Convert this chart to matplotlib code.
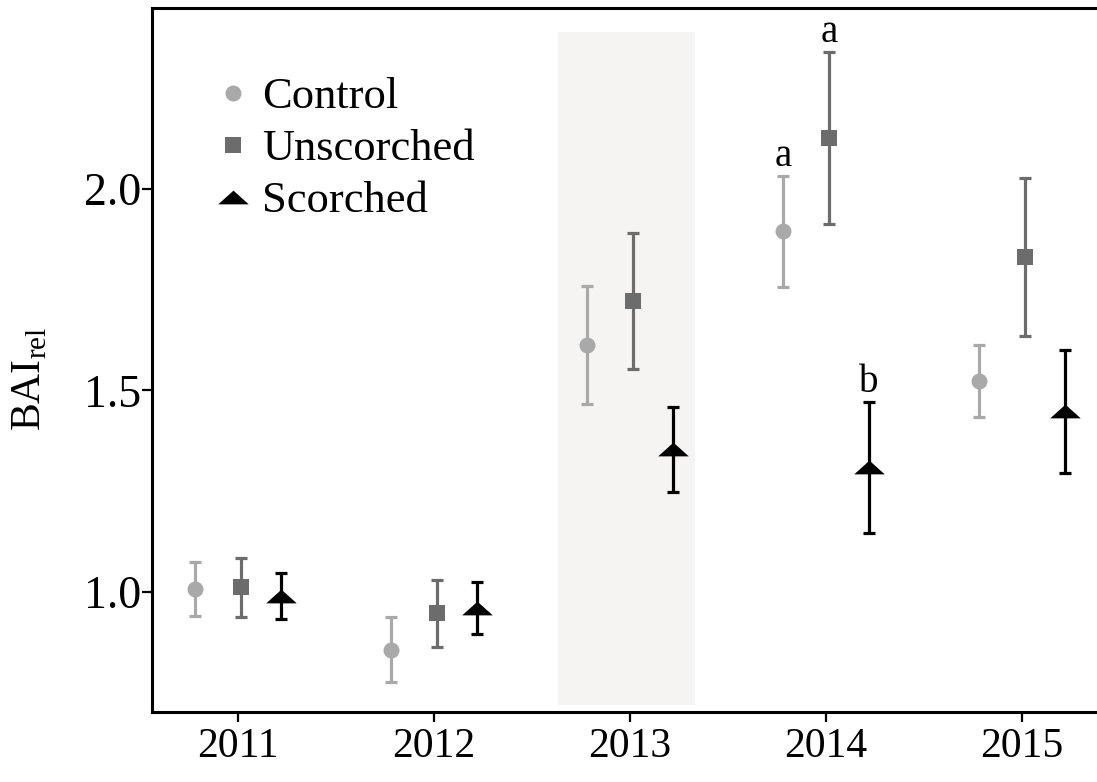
import matplotlib.pyplot as plt
from matplotlib.lines import Line2D
import numpy as np

plt.rcParams['font.family'] = ['Liberation Serif', 'DejaVu Serif']
plt.rcParams['mathtext.fontset'] = 'custom'
plt.rcParams['mathtext.rm'] = 'Liberation Serif'

# relative basal area increment per year, mean and error
years = [2011, 2012, 2013, 2014, 2015]
control = [1.007, 0.857, 1.613, 1.895, 1.524]
control_err = [0.067, 0.081, 0.146, 0.138, 0.089]
unscorched = [1.012, 0.947, 1.722, 2.127, 1.831]
unscorched_err = [0.073, 0.083, 0.169, 0.213, 0.196]
scorched = [0.990, 0.960, 1.354, 1.309, 1.448]
scorched_err = [0.057, 0.065, 0.105, 0.163, 0.153]

# significance letters for 2014
letters_2014 = ['a', 'a', 'b']

fig = plt.figure(figsize=(10.97, 7.82), dpi=100)
ax = fig.add_axes([0.1386, 0.0895, 0.8614, 0.9003])

# fire year shading
ax.axvspan(2012.63, 2013.33, ymin=0.01, ymax=0.966, color='#f5f4f2', lw=0, zorder=0)

# flat triangle used for the scorched trees
tri = [(-1, -0.45), (1, -0.45), (0, 0.45), (-1, -0.45)]

x = np.array(years, dtype=float)
groups = [
    (control, control_err, -0.22, 'o', '#a9a9a9', 11.5, 'Control'),
    (unscorched, unscorched_err, 0.015, 's', '#6c6c6c', 11, 'Unscorched'),
    (scorched, scorched_err, 0.22, tri, '#000000', 22, 'Scorched'),
]
handles = []
for vals, errs, dx, mk, col, ms, name in groups:
    ax.errorbar(x + dx, vals, yerr=errs, fmt='none', ecolor=col, elinewidth=2.3,
                capsize=4.5, capthick=2.3, zorder=2)
    ax.plot(x + dx, vals, linestyle='none', marker=mk, color=col, markersize=ms,
            markeredgewidth=0, zorder=3)
    handles.append(Line2D([], [], linestyle='none', marker=mk, color=col,
                          markersize=ms, markeredgewidth=0, label=name))

# letters above the 2014 error bars
i14 = years.index(2014)
for (vals, errs, dx, *_), lab in zip(groups, letters_2014):
    ax.annotate(lab, xy=(years[i14] + dx, vals[i14] + errs[i14]), xytext=(0, 7),
                textcoords='offset points', ha='center', va='baseline', fontsize=28)

ax.legend(handles=handles, loc='upper left', bbox_to_anchor=(0.0693, 0.902),
          frameon=False, fontsize=32, handlelength=0.7, handletextpad=0.3,
          labelspacing=0.27, borderpad=0, borderaxespad=0)

ax.set_xlim(2010.561, 2015.383)
ax.set_ylim(0.702, 2.449)
ax.set_xticks(years)
ax.set_xticklabels([str(y) for y in years])
ax.set_yticks([1.0, 1.5, 2.0])
ax.set_yticklabels(['1.0', '1.5', '2.0'])
ax.tick_params(axis='both', direction='out', length=7.2, width=1.6)
ax.tick_params(axis='x', pad=4, labelsize=30)
ax.tick_params(axis='y', pad=0.5, labelsize=33)

for s in ['left', 'bottom', 'top']:
    ax.spines[s].set_linewidth(2.2)
ax.spines['right'].set_visible(False)

fig.text(30 / 1097, 1 - 379 / 782, r'$\mathrm{BAI}_{\mathrm{rel}}$', rotation=90,
         ha='center', va='center', fontsize=30)

fig.savefig('out.png', dpi=100)
